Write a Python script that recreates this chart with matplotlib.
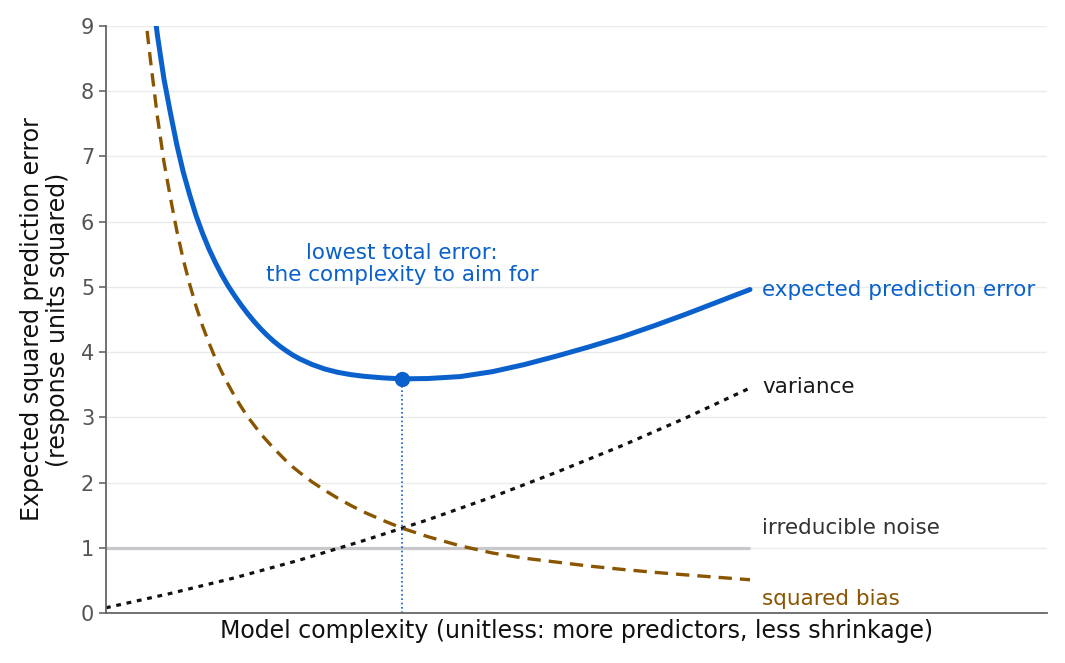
import matplotlib
matplotlib.use("Agg")
import matplotlib.pyplot as plt
import numpy as np

# ---- data (complexity in arbitrary units 0..10) ----
x_curve = [0.6, 0.7, 0.8, 0.9, 1.0, 1.1, 1.2, 1.3, 1.4, 1.5, 1.6, 1.7, 1.8, 1.9,
           2.0, 2.1, 2.2, 2.3, 2.4, 2.5, 2.6, 2.7, 2.8, 2.9, 3.0, 3.2, 3.4, 3.6,
           3.8, 4.0, 4.3, 4.6, 5.0, 5.5, 6.0, 6.5, 7.0, 7.5, 8.0, 8.5, 9.0, 9.5, 10.0]
squared_bias = [9.25, 8.40, 7.60, 6.92, 6.37, 5.86, 5.42, 5.04, 4.70, 4.40, 4.14, 3.90,
                3.69, 3.50, 3.32, 3.16, 3.01, 2.88, 2.75, 2.64, 2.53, 2.43, 2.33, 2.24,
                2.16, 2.01, 1.88, 1.76, 1.65, 1.55, 1.42, 1.30, 1.17, 1.03, 0.92, 0.84,
                0.78, 0.72, 0.67, 0.625, 0.585, 0.547, 0.51]
expected_error = [10.46, 9.63, 8.85, 8.19, 7.67, 7.18, 6.76, 6.41, 6.09, 5.82, 5.58,
                  5.37, 5.18, 5.01, 4.86, 4.72, 4.59, 4.47, 4.36, 4.26, 4.17, 4.09,
                  4.02, 3.955, 3.90, 3.81, 3.74, 3.69, 3.655, 3.63, 3.605, 3.59, 3.595,
                  3.625, 3.70, 3.81, 3.94, 4.08, 4.23, 4.40, 4.58, 4.77, 4.96]

x_var = [0, 1, 2, 3, 4, 5, 6, 7, 8, 9, 10]
variance = [0.08, 0.30, 0.54, 0.81, 1.11, 1.43, 1.78, 2.16, 2.56, 2.99, 3.45]

x_noise = [0, 10]
noise = [1.0, 1.0]

curve_labels = ["expected prediction error", "variance", "irreducible noise", "squared bias"]
label_y = [4.95, 3.47, 1.30, 0.21]
y_ticks = [0, 1, 2, 3, 4, 5, 6, 7, 8, 9]

BLUE = "#0b61cc"
BROWN = "#8a5500"

fig = plt.figure(figsize=(10.65, 6.63), dpi=100)
ax = fig.add_axes([0.0995, 0.0754, 0.8835, 0.8854])

ax.set_xlim(0, 14.61)
ax.set_ylim(0, 9)

# grid
for yt in y_ticks:
    ax.axhline(yt, color="#ebebeb", lw=1.0, zorder=0)

# noise
ax.plot(x_noise, noise, color="#c8c8cc", lw=2.3, solid_capstyle="butt", zorder=1)
# variance
ax.plot(x_var, variance, color="#111111", lw=2.3, linestyle=(0, (1.5, 1.8)),
        dash_capstyle="butt", zorder=2)
# bias
ax.plot(x_curve, squared_bias, color=BROWN, lw=2.4, linestyle=(0, (4.0, 2.4)),
        dash_capstyle="butt", zorder=2)
# total
ax.plot(x_curve, expected_error, color=BLUE, lw=3.6, solid_capstyle="round",
        solid_joinstyle="round", zorder=3)

# minimum
i_min = int(np.argmin(expected_error))
xm, ym = x_curve[i_min], expected_error[i_min]
ax.plot([xm, xm], [0, ym], color=BLUE, lw=1.2, linestyle=(0, (1, 1.6)), zorder=2)
ax.plot([xm], [ym], "o", color=BLUE, markersize=10, zorder=4)
ax.text(xm, 5.35, "lowest total error:\nthe complexity to aim for", color=BLUE,
        fontsize=15.5, ha="center", va="center", linespacing=1.15)

# curve labels
label_colors = [BLUE, "#1a1a1a", "#333333", BROWN]
for txt, yy, cc in zip(curve_labels, label_y, label_colors):
    ax.text(10.19, yy, txt, color=cc, fontsize=15.5, ha="left", va="center")

# axes styling
for s in ["top", "right"]:
    ax.spines[s].set_visible(False)
for s in ["left", "bottom"]:
    ax.spines[s].set_color("#666666")
    ax.spines[s].set_linewidth(1.3)
ax.set_yticks(y_ticks)
ax.set_xticks([])
ax.tick_params(axis="y", colors="#666666", labelcolor="#555555", labelsize=15,
               length=5, width=1.2, direction="out")

ax.set_xlabel("Model complexity (unitless: more predictors, less shrinkage)",
              fontsize=17, color="#111111", labelpad=4)
ax.set_ylabel("Expected squared prediction error\n(response units squared)",
              fontsize=17, color="#111111", labelpad=8, linespacing=1.1)

fig.savefig("out.png", dpi=100)
